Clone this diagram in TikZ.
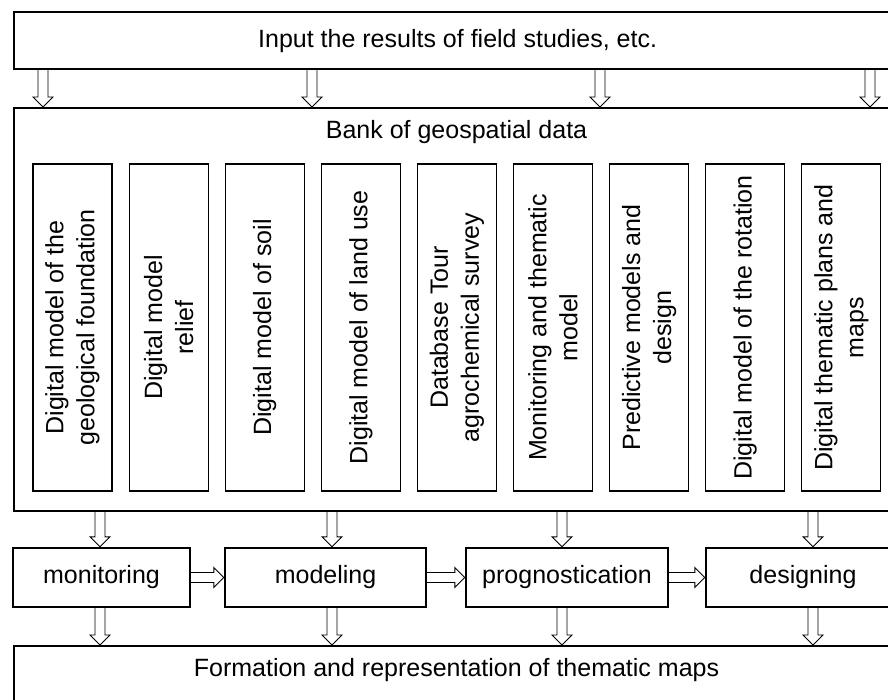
\documentclass[tikz,border=0pt]{standalone}
\usepackage{fontspec}
\setmainfont{Liberation Sans}
\usetikzlibrary{calc}

\tikzset{
  outerbox/.style={draw=black, line width=2.2pt, fill=white, inner sep=0pt},
  stagebox/.style={draw=black, line width=2.4pt, fill=white, inner sep=0pt,
    minimum height=59pt},
  layerbox/.style={draw=black, line width=1.2pt, fill=white, inner sep=0pt,
    minimum width=79pt, minimum height=327pt},
  layertext/.style={rotate=90, align=center, inner sep=0pt,
    font=\fontsize{25}{31}\selectfont},
  txt/.style={inner sep=0pt, font=\fontsize{25}{30}\selectfont},
  % hollow block arrow pointing down
  blockdown/.style={draw=black, line width=0.9pt, fill=white,
    to path={let \p1=(\tikztostart), \p2=(\tikztotarget) in
      (\x1-5pt,\y1) -- (\x1-5pt,\y2+10pt) -- (\x1-10pt,\y2+10pt) -- (\x2,\y2)
      -- (\x1+10pt,\y2+10pt) -- (\x1+5pt,\y2+10pt) -- (\x1+5pt,\y1)}},
  % hollow block arrow pointing right
  blockright/.style={draw=black, line width=0.9pt, fill=white,
    to path={let \p1=(\tikztostart), \p2=(\tikztotarget) in
      (\x1,\y1+5pt) -- (\x2-10pt,\y1+5pt) -- (\x2-10pt,\y1+10pt) -- (\x2,\y2)
      -- (\x2-10pt,\y1-10pt) -- (\x2-10pt,\y1-5pt) -- (\x1,\y1-5pt)}},
}

\begin{document}
\begin{tikzpicture}[x=1pt, y=-1pt]
\useasboundingbox (0,0) rectangle (888,700);
\clip (0,0) rectangle (888,700);
\fill[white] (0,0) rectangle (888,700);

% input block
\node[outerbox, minimum width=887pt, minimum height=57pt, anchor=north west,
  txt] (input) at (13,11) {Input the results of field studies, etc.};

% geospatial data bank
\node[outerbox, minimum width=887pt, minimum height=403pt, anchor=north west]
  (bank) at (13,107) {};
\node[txt] (banktitle) at (456.5,132) {Bank of geospatial data};

% data layers inside the bank
\foreach \i/\t in {
  0/{Digital model of the\\geological foundation},
  1/{Digital model\\relief},
  2/{Digital model of soil},
  3/{Digital model of land use},
  4/{Database Tour\\agrochemical survey},
  5/{Monitoring and thematic\\model},
  6/{Predictive models and\\design},
  7/{Digital model of the rotation},
  8/{Digital thematic plans and\\maps}}{
  \node[layerbox] (layer\i) at ({72.5+96.1*\i},327.5) {};
  \node[layertext] (layertext\i) at (layer\i.center) {\t};
}

% processing stages
\node[stagebox, minimum width=177pt, txt] (monitoring) at (101.5,577.5) {monitoring};
\node[stagebox, minimum width=201pt, txt] (modeling) at (325.5,577.5) {modeling};
\node[stagebox, minimum width=202pt, txt] (prognostication) at (567,577.5) {prognostication};
\node[stagebox, minimum width=194pt, txt] (designing) at (803,577.5) {designing};

% output block
\node[outerbox, minimum width=887pt, minimum height=80pt, anchor=north west]
  (output) at (13,645) {};
\node[txt] (outputtitle) at (456.5,670) {Formation and representation of thematic maps};

% arrow columns
\coordinate (a1) at (43,0);
\coordinate (a2) at (312,0);
\coordinate (a3) at (600,0);
\coordinate (a4) at (870,0);
\coordinate (b1) at (100,0);
\coordinate (b2) at (332,0);
\coordinate (b3) at (562,0);
\coordinate (b4) at (813,0);

% input -> bank
\foreach \c in {a1,a2,a3,a4}
  \draw[blockdown] (input.south -| \c) to (bank.north -| \c);

% bank -> stages, stages -> output
\foreach \c/\s in {b1/monitoring,b2/modeling,b3/prognostication,b4/designing}{
  \draw[blockdown] (bank.south -| \c) to (\s.north -| \c);
  \draw[blockdown] (\s.south -| \c) to (output.north -| \c);
}

% stage sequence
\draw[blockright] (monitoring.east) to (modeling.west);
\draw[blockright] (modeling.east) to (prognostication.west);
\draw[blockright] (prognostication.east) to (designing.west);
\end{tikzpicture}
\end{document}
